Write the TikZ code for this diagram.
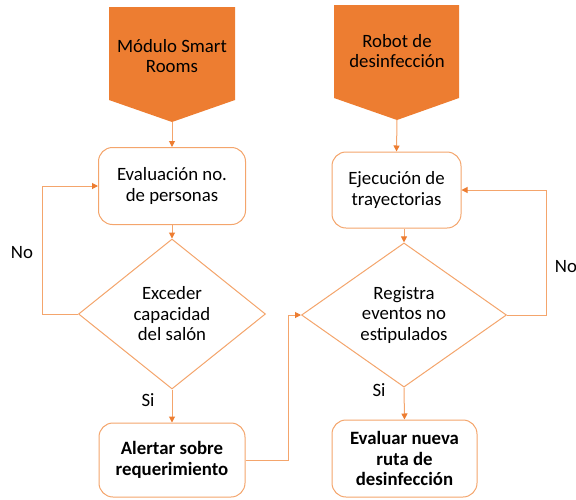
\documentclass[tikz,border=0pt]{standalone}
\usepackage{fontspec}
\setmainfont{Carlito}
\usetikzlibrary{arrows.meta,shapes.geometric}
\definecolor{orfill}{HTML}{ED7D31}
\definecolor{orline}{HTML}{F4A56C}
\begin{document}
\begin{tikzpicture}[x=1pt,y=-1pt,
  txt/.style={font=\fontsize{18.8}{20.5}\selectfont, align=center},
  boldtxt/.style={font=\fontsize{18.8}{20.5}\selectfont\bfseries},
  procbox/.style={txt, draw=orline, line width=1pt, rounded corners=14pt, fill=white, inner sep=0pt},
  decbox/.style={txt, draw=orline, line width=1pt, diamond, inner sep=0pt, fill=white},
  conn/.style={draw=orline, line width=1pt},
  arr/.style={conn, -{Triangle[length=6pt,width=6pt,color=orfill]}},
  pent/.style={fill=orfill, draw=none}]
\useasboundingbox (0,0) rectangle (576,499);

% start pentagons
\fill[pent] (109,7) -- (235,7) -- (235,100) -- (172,122) -- (109,100) -- cycle;
\coordinate (p1tip) at (172,122);
\node[txt] (p1) at (172,56) {Módulo Smart\\Rooms};

\fill[pent] (334,5) -- (459,5) -- (459,98) -- (397,120) -- (334,98) -- cycle;
\coordinate (p2tip) at (397,120);
\node[txt] (p2) at (397,51) {Robot de\\desinfección};

% process boxes
\node[procbox, minimum width=147pt, minimum height=77pt] (b1) at (172,186) {Evaluación no.\\de personas};
\node[procbox, minimum width=129pt, minimum height=76pt] (b2) at (396.5,190) {Ejecución de\\trayectorias};
\node[procbox, boldtxt, minimum width=146pt, minimum height=74pt] (b3) at (172,460) {Alertar sobre\\requerimiento};
\node[procbox, boldtxt, minimum width=145pt, minimum height=77pt] (b4) at (404.5,458.5) {Evaluar nueva\\ruta de\\desinfección};

% decisions
\node[decbox, minimum width=187pt, minimum height=150pt] (d1) at (172,314) {Exceder\\capacidad\\del salón};
\node[decbox, minimum width=205pt, minimum height=144pt] (d2) at (404,315) {Registra\\eventos no\\estipulados};

% helper coordinates
\coordinate (nl) at (42,314);
\coordinate (nr) at (546,315);
\coordinate (jx) at (288,0);

% connectors
\draw[arr] (p1tip) -- (b1.north);
\draw[arr] (b1.south) -- (d1.north);
\draw[arr] (d1.west) -- (nl) |- (b1.west);
\draw[arr] (d1.south) -- (b3.north);
\draw[arr] (b3.east) -- (b3.east -| jx) |- (d2.west);

\draw[arr] (p2tip) -- (b2.north);
\draw[arr] (b2.south -| d2.north) -- (d2.north);
\draw[arr] (d2.east) -- (nr) |- (b2.east);
\draw[arr] (d2.south) -- (b4.north);

% labels
\node[txt] (lno1) at (22,253) {No};
\node[txt] (lno2) at (566,267) {No};
\node[txt] (lsi1) at (148,400) {Si};
\node[txt] (lsi2) at (379,390) {Si};
\end{tikzpicture}
\end{document}
